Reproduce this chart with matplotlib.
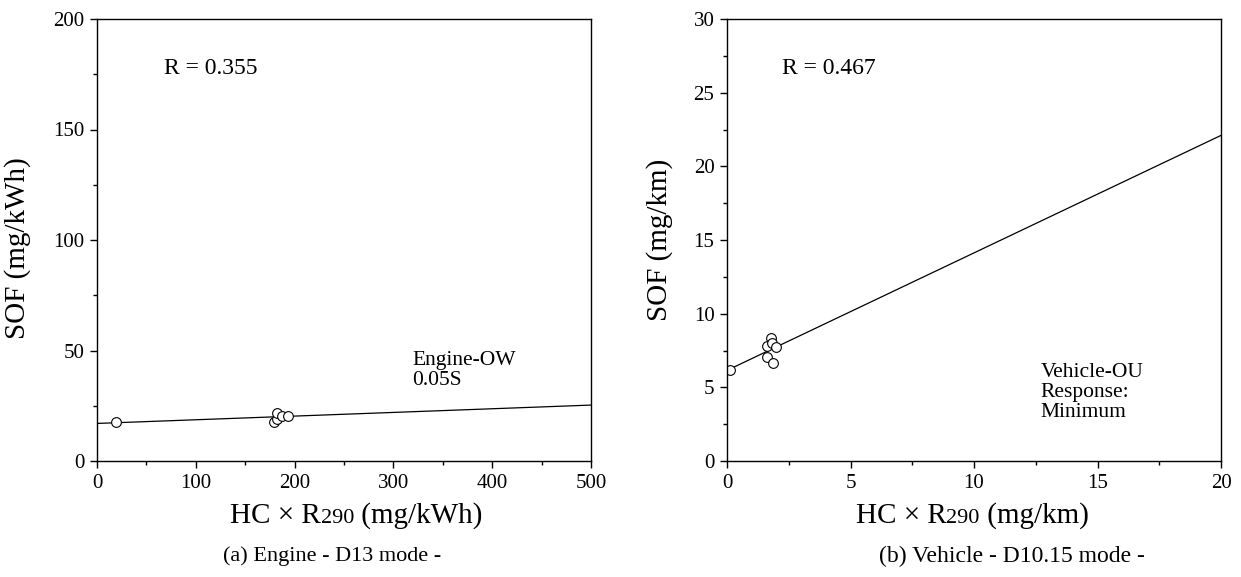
import numpy as np
import matplotlib
matplotlib.use('Agg')
import matplotlib.pyplot as plt
from matplotlib.ticker import MultipleLocator
from matplotlib.offsetbox import TextArea, HPacker, AnchoredOffsetbox

plt.rcParams['font.family'] = ['Liberation Serif', 'DejaVu Serif']

# -------------------------------
# Data
# -------------------------------
# (a) Engine - D13 mode
eng_x = [19, 179, 182, 182, 187, 193]
eng_y = [17.5, 17.5, 18.8, 21.7, 20.2, 20.5]
eng_fit = [17.0, 25.3]          # fit line value at x = 0 and x = 500
eng_xlim = [0, 500]
eng_r = 0.355

# (b) Vehicle - D10.15 mode
veh_x = [0.13, 1.78, 1.63, 1.82, 2.0, 1.63, 1.87]
veh_y = [6.2, 8.33, 7.82, 8.0, 7.77, 7.07, 6.67]
veh_fit = [6.15, 22.1]          # fit line value at x = 0 and x = 20
veh_xlim = [0, 20]
veh_r = 0.467

fig = plt.figure(figsize=(12.41, 5.77), dpi=100)
ax1 = fig.add_axes([97/1241, 116/577, 494/1241, 442/577])
ax2 = fig.add_axes([727/1241, 116/577, 494/1241, 442/577])


def style_axis(ax, xmaj, ymaj):
    ax.xaxis.set_major_locator(MultipleLocator(xmaj))
    ax.xaxis.set_minor_locator(MultipleLocator(xmaj / 2))
    ax.yaxis.set_major_locator(MultipleLocator(ymaj))
    ax.yaxis.set_minor_locator(MultipleLocator(ymaj / 2))
    ax.tick_params(which='both', direction='out', top=False, right=False,
                   width=1.0, labelsize=15, pad=4)
    ax.tick_params(which='major', length=5)
    ax.tick_params(which='minor', length=3)
    for s in ax.spines.values():
        s.set_linewidth(1.0)


def hc_label(unit, x, y):
    # "HC x R290 (unit)" with the 290 set smaller on the baseline
    parts = [TextArea('HC \u00d7 R', textprops=dict(fontsize=21)),
             TextArea('290', textprops=dict(fontsize=16)),
             TextArea(f' ({unit})', textprops=dict(fontsize=21))]
    box = HPacker(children=parts, align='baseline', pad=0, sep=0)
    anch = AnchoredOffsetbox(loc='center', child=box, frameon=False, pad=0,
                             bbox_to_anchor=(x, y),
                             bbox_transform=fig.transFigure, borderpad=0)
    fig.add_artist(anch)


# Engine panel
ax1.plot(eng_xlim, eng_fit, color='black', lw=0.9)
ax1.plot(eng_x, eng_y, 'o', mfc='white', mec='black', ms=7, mew=0.8)
ax1.set_xlim(eng_xlim)
ax1.set_ylim(0, 200)
style_axis(ax1, 100, 50)
ax1.text(0.135, 0.887, f'R = {eng_r:.3f}', transform=ax1.transAxes,
         fontsize=17, va='center')
ax1.text(0.638, 0.205, 'Engine-OW\n0.05S', transform=ax1.transAxes,
         fontsize=15.5, va='center', linespacing=1.05)

# Vehicle panel
ax2.plot(veh_xlim, veh_fit, color='black', lw=0.9)
ax2.plot(veh_x, veh_y, 'o', mfc='white', mec='black', ms=7, mew=0.8)
ax2.set_xlim(veh_xlim)
ax2.set_ylim(0, 30)
style_axis(ax2, 5, 5)
ax2.text(0.111, 0.887, f'R = {veh_r:.3f}', transform=ax2.transAxes,
         fontsize=17, va='center')
ax2.text(0.635, 0.155, 'Vehicle-OU\nResponse:\nMinimum', transform=ax2.transAxes,
         fontsize=15.5, va='center', linespacing=1.05)

# Axis labels and captions
fig.text(18/1241, 1 - 248/577, 'SOF (mg/kWh)', rotation=90, fontsize=21,
         ha='center', va='center')
fig.text(660/1241, 1 - 240/577, 'SOF (mg/km)', rotation=90, fontsize=21,
         ha='center', va='center')
hc_label('mg/kWh', 356/1241, 1 - 516/577)
hc_label('mg/km', 972/1241, 1 - 516/577)
fig.text(332/1241, 1 - 556/577, '(a) Engine - D13 mode -', fontsize=16,
         ha='center', va='center')
fig.text(1012/1241, 1 - 556/577, '(b) Vehicle - D10.15 mode -', fontsize=17,
         ha='center', va='center')

fig.savefig('out.png', dpi=100)
